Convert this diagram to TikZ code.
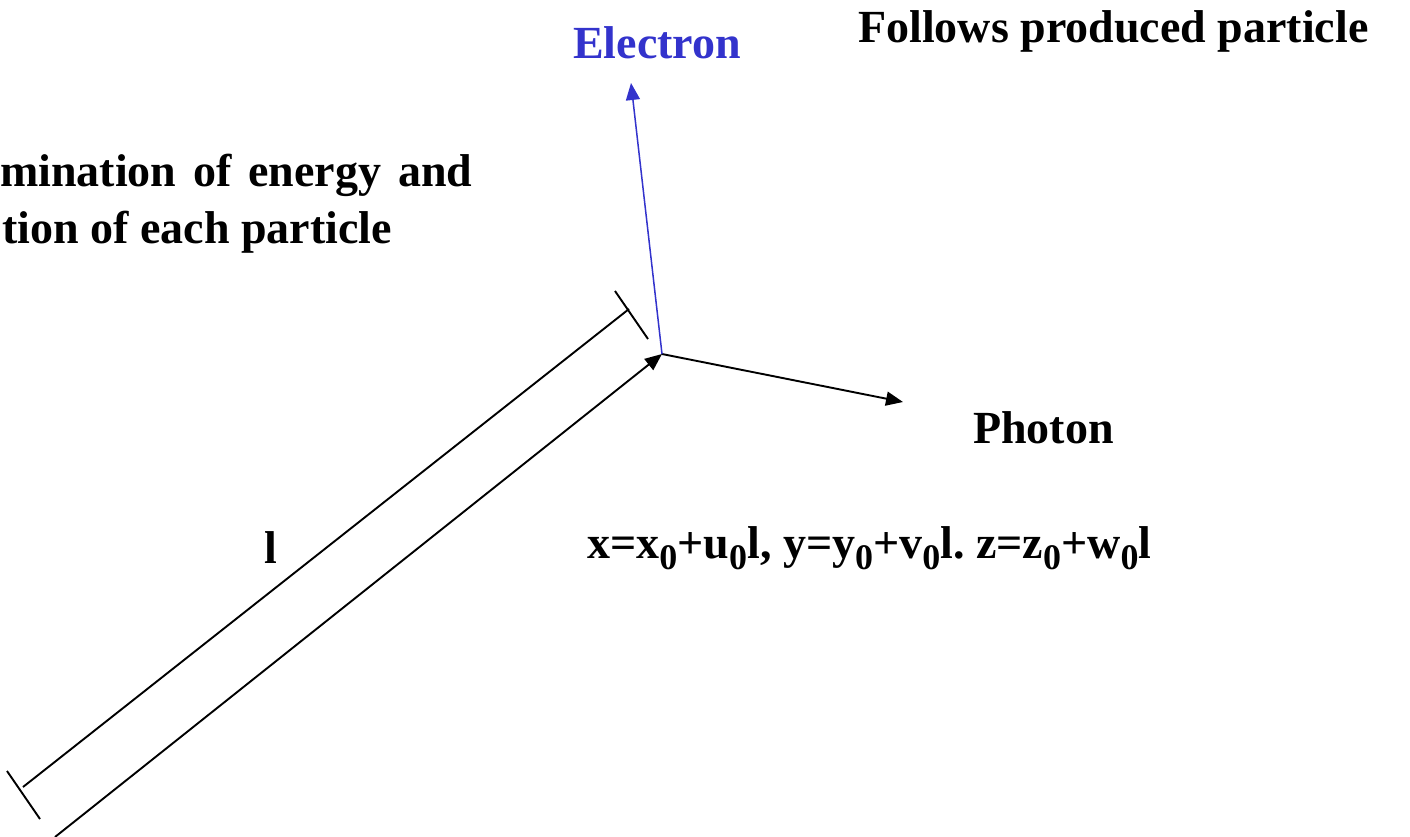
\documentclass[tikz,border=0pt]{standalone}
\usepackage{fontspec}
\setmainfont{Liberation Serif}
\usetikzlibrary{arrows.meta}
\definecolor{electronblue}{RGB}{51,51,204}
\newcommand\subz[1]{\raisebox{-0.25em}{\fontsize{36}{36}\selectfont #1}}
\frenchspacing
\begin{document}
\begin{tikzpicture}[x=1pt,y=-1pt,
  lbl/.style={inner sep=0pt,anchor=base west,font=\fontsize{46}{50}\selectfont\bfseries},
  blk/.style={line width=1.9pt,black},
  arr/.style={-{Triangle[length=17pt,width=14pt]}},
  tick/.style={line width=1.9pt,black}]
\useasboundingbox (0,0) rectangle (1410,837);
% coordinates
\coordinate (vertex) at (662,354);
\coordinate (etip) at (631,83);
\coordinate (ptip) at (903,402);
\coordinate (lstart) at (55,837);
\coordinate (d1) at (23,787);
\coordinate (d2) at (629,309);
\coordinate (t1a) at (7,771);
\coordinate (t1b) at (40,819);
\coordinate (t2a) at (615,291);
\coordinate (t2b) at (648,339);
% texts
\node[lbl,text=electronblue] (electron) at (573,59) {Electron};
\node[lbl] (follows) at (858,43) {Follows produced particle};
\node[lbl] (det1) at (0,186) {\makebox[472pt][s]{mination of energy and}};
\node[lbl,anchor=base east] (det2) at (392,243) {tion of each particle};
\node[lbl] (photon) at (973,443) {Photon};
\node[lbl] (ell) at (264,563) {l};
\node[lbl] (eq) at (587,558) {x=x\subz{0}+u\subz{0}l, y=y\subz{0}+v\subz{0}l. z=z\subz{0}+w\subz{0}l};
% connectors
\draw[blk,arr] (lstart) -- (vertex);
\draw[blk,arr] (vertex) -- (ptip);
\draw[line width=1.5pt,electronblue,arr] (vertex) -- (etip);
\draw[blk] (d1) -- (d2);
\draw[tick] (t1a) -- (t1b);
\draw[tick] (t2a) -- (t2b);
\end{tikzpicture}
\end{document}
